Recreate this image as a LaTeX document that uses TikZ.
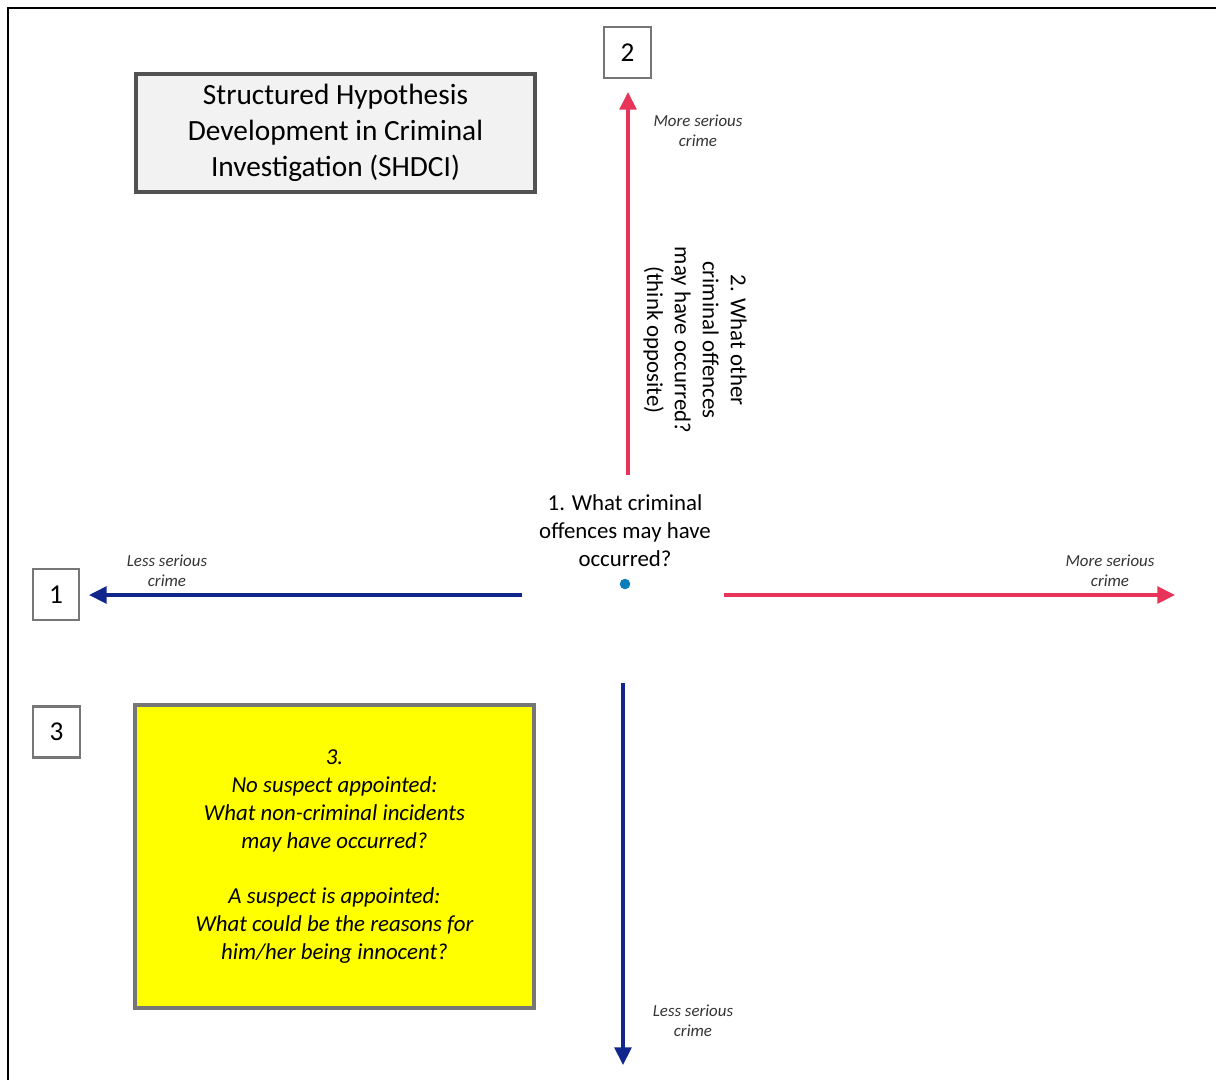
\documentclass[tikz,border=0pt]{standalone}
\usepackage{fontspec}
\setmainfont{Carlito}
\usepackage{tikz}
\usetikzlibrary{positioning,arrows.meta}
\definecolor{crimered}{RGB}{233,52,90}
\definecolor{crimeblue}{RGB}{16,38,140}
\definecolor{framegray}{RGB}{118,118,118}
\definecolor{titlegray}{RGB}{242,242,242}
\definecolor{notefill}{RGB}{255,255,0}

\begin{document}
\begin{tikzpicture}[
  x=0.02cm,y=-0.02cm,
  titlebox/.style={rectangle,draw=black!68,fill=titlegray,line width=2pt,
        minimum width=7.98cm,minimum height=2.36cm,align=center,
        font=\fontsize{16.7}{20.5}\selectfont},
  numbox/.style={rectangle,draw=framegray,fill=white,line width=1.2pt,
        minimum width=0.93cm,minimum height=1.02cm,font=\fontsize{15.5}{18}\selectfont},
  notebox/.style={rectangle,draw=framegray,fill=notefill,line width=2pt,
        minimum width=7.98cm,minimum height=6.06cm,align=center,
        font=\fontsize{13}{15.9}\selectfont\itshape},
  question/.style={align=center,font=\fontsize{13}{15.9}\selectfont},
  hint/.style={align=center,font=\fontsize{9.6}{11.3}\selectfont\itshape,text=black!80},
  redarrow/.style={-{Triangle[length=10pt,width=9.5pt]},crimered,line width=2pt},
  bluearrow/.style={-{Triangle[length=10pt,width=9.5pt]},crimeblue,line width=2pt}
]
\useasboundingbox (0,0) rectangle (1216,1080);
% page frame (only top and left edges visible)
\draw[line width=1pt] (1216,8) -- (8,8) -- (8,1080);

\node[titlebox] (title) at (335.5,133) {Structured Hypothesis\\Development in Criminal\\Investigation (SHDCI)};
\node[numbox] (box2) at (627.5,52.5) {2};
\node[numbox] (box1) at (56,594.5) {1};
\node[numbox] (box3) at (56.5,732) {3};
\node[notebox] (note) at (334.5,856.5) {3.\\No suspect appointed:\\What non-criminal incidents\\may have occurred?\\[15.9pt]A suspect is appointed:\\What could be the reasons for\\him/her being innocent?};

% centre question
\node[question] (q1) at (625,531) {1. What criminal\\offences may have\\occurred?};
\node[circle,fill=crimeblue!60!cyan,inner sep=0pt,minimum size=6pt] (pin) at (625,584) {};

% axis end points
\coordinate (upstart) at (628,475);
\coordinate (upend) at (628,92);
\coordinate (rightstart) at (724,595);
\coordinate (rightend) at (1175,595);
\coordinate (leftstart) at (522,595);
\coordinate (leftend) at (89,595);
\coordinate (downstart) at (623,683);
\coordinate (downend) at (623,1065);

\draw[redarrow] (upstart) -- (upend);
\draw[redarrow] (rightstart) -- (rightend);
\draw[bluearrow] (leftstart) -- (leftend);
\draw[bluearrow] (downstart) -- (downend);

\node[question,rotate=-90] (q2) at (695,340) {2. What other\\criminal offences\\may have occurred?\\(think opposite)};

% axis labels
\node[hint] (lblup) at (698,131) {More serious\\crime};
\node[hint] (lblright) at (1110,571) {More serious\\crime};
\node[hint] (lblleft) at (167,571) {Less serious\\crime};
\node[hint] (lbldown) at (693,1021) {Less serious\\crime};
\end{tikzpicture}
\end{document}
